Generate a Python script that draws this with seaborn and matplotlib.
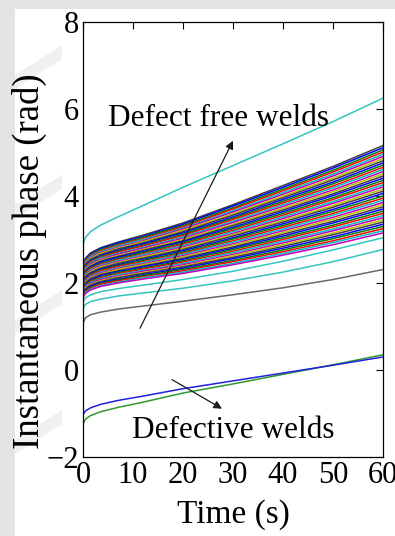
import pandas as pd
import matplotlib
matplotlib.use("Agg")
import matplotlib.pyplot as plt
from matplotlib.patches import Rectangle, Polygon
import seaborn as sns

# Sample times (s) at which every phase trace is tabulated
time_s = [0, 0.5, 1.5, 3.5, 7, 12, 20, 30, 40, 50, 60]

# Instantaneous phase (rad) of the bundle of defect-free welds:
# one array per sample time, one entry per weld (top of bundle first)
band_t0 = [2.42, 2.40, 2.38, 2.36, 2.34, 2.33, 2.31, 2.29, 2.27, 2.25, 2.23, 2.21, 2.19, 2.17,
           2.15, 2.14, 2.12, 2.10, 2.08, 2.06, 2.04, 2.02, 2.00, 1.98, 1.96, 1.95, 1.93, 1.91,
           1.89, 1.87, 1.85, 1.83, 1.81, 1.79, 1.77, 1.76, 1.74, 1.72, 1.70, 1.68, 1.66]
band_t0_5 = [2.57, 2.55, 2.53, 2.51, 2.49, 2.47, 2.45, 2.43, 2.41, 2.39, 2.37, 2.35, 2.33, 2.31,
             2.29, 2.27, 2.25, 2.23, 2.21, 2.19, 2.17, 2.15, 2.13, 2.10, 2.08, 2.06, 2.04, 2.02,
             2.00, 1.98, 1.96, 1.94, 1.92, 1.90, 1.88, 1.86, 1.84, 1.82, 1.80, 1.78, 1.76]
band_t1_5 = [2.69, 2.67, 2.65, 2.63, 2.61, 2.58, 2.56, 2.54, 2.52, 2.50, 2.48, 2.46, 2.44, 2.41,
             2.39, 2.37, 2.35, 2.33, 2.31, 2.29, 2.27, 2.24, 2.22, 2.20, 2.18, 2.16, 2.14, 2.12,
             2.10, 2.07, 2.05, 2.03, 2.01, 1.99, 1.97, 1.95, 1.93, 1.90, 1.88, 1.86, 1.84]
band_t3_5 = [2.81, 2.79, 2.77, 2.74, 2.72, 2.70, 2.68, 2.65, 2.63, 2.61, 2.59, 2.57, 2.54, 2.52,
             2.50, 2.48, 2.45, 2.43, 2.41, 2.39, 2.37, 2.34, 2.32, 2.30, 2.28, 2.25, 2.23, 2.21,
             2.19, 2.17, 2.14, 2.12, 2.10, 2.08, 2.05, 2.03, 2.01, 1.99, 1.97, 1.94, 1.92]
band_t7 = [2.94, 2.92, 2.89, 2.87, 2.85, 2.82, 2.80, 2.78, 2.75, 2.73, 2.71, 2.68, 2.66, 2.63,
           2.61, 2.59, 2.56, 2.54, 2.52, 2.49, 2.47, 2.45, 2.42, 2.40, 2.38, 2.35, 2.33, 2.31,
           2.28, 2.26, 2.24, 2.21, 2.19, 2.16, 2.14, 2.12, 2.09, 2.07, 2.05, 2.02, 2.00]
band_t12 = [3.10, 3.07, 3.05, 3.02, 3.00, 2.97, 2.95, 2.92, 2.90, 2.87, 2.85, 2.82, 2.80, 2.77,
            2.75, 2.72, 2.70, 2.67, 2.65, 2.62, 2.60, 2.57, 2.54, 2.52, 2.49, 2.47, 2.44, 2.42,
            2.39, 2.37, 2.34, 2.32, 2.29, 2.27, 2.24, 2.22, 2.19, 2.17, 2.14, 2.12, 2.09]
band_t20 = [3.38, 3.35, 3.32, 3.29, 3.26, 3.24, 3.21, 3.18, 3.15, 3.12, 3.09, 3.06, 3.03, 3.00,
            2.97, 2.95, 2.92, 2.89, 2.86, 2.83, 2.80, 2.77, 2.74, 2.71, 2.68, 2.66, 2.63, 2.60,
            2.57, 2.54, 2.51, 2.48, 2.45, 2.42, 2.39, 2.37, 2.34, 2.31, 2.28, 2.25, 2.22]
band_t30 = [3.80, 3.77, 3.73, 3.70, 3.66, 3.63, 3.59, 3.56, 3.52, 3.49, 3.46, 3.42, 3.39, 3.35,
            3.32, 3.28, 3.25, 3.21, 3.18, 3.14, 3.11, 3.08, 3.04, 3.01, 2.97, 2.94, 2.90, 2.87,
            2.83, 2.80, 2.77, 2.73, 2.70, 2.66, 2.63, 2.59, 2.56, 2.52, 2.49, 2.45, 2.42]
band_t40 = [4.24, 4.20, 4.16, 4.12, 4.08, 4.04, 4.00, 3.96, 3.92, 3.88, 3.84, 3.80, 3.76, 3.72,
            3.68, 3.64, 3.60, 3.56, 3.52, 3.48, 3.44, 3.40, 3.36, 3.32, 3.28, 3.24, 3.20, 3.16,
            3.12, 3.08, 3.04, 3.00, 2.96, 2.92, 2.88, 2.84, 2.80, 2.76, 2.72, 2.68, 2.64]
band_t50 = [4.68, 4.64, 4.59, 4.55, 4.50, 4.46, 4.41, 4.37, 4.32, 4.28, 4.23, 4.19, 4.14, 4.10,
            4.05, 4.01, 3.96, 3.92, 3.87, 3.83, 3.78, 3.74, 3.69, 3.65, 3.60, 3.56, 3.51, 3.47,
            3.42, 3.38, 3.33, 3.29, 3.24, 3.20, 3.15, 3.11, 3.06, 3.02, 2.97, 2.93, 2.88]
band_t60 = [5.16, 5.11, 5.06, 5.01, 4.96, 4.91, 4.86, 4.81, 4.76, 4.71, 4.66, 4.61, 4.56, 4.51,
            4.46, 4.41, 4.36, 4.31, 4.26, 4.21, 4.16, 4.11, 4.06, 4.00, 3.95, 3.90, 3.85, 3.80,
            3.75, 3.70, 3.65, 3.60, 3.55, 3.50, 3.45, 3.40, 3.35, 3.30, 3.25, 3.20, 3.15]

# Defect-free welds lying outside the main bundle (one value per sample time)
outlier_high = [2.90, 3.05, 3.18, 3.33, 3.52, 3.78, 4.20, 4.70, 5.20, 5.71, 6.25]
outlier_cyan_a = [1.56, 1.66, 1.73, 1.80, 1.87, 1.95, 2.08, 2.27, 2.50, 2.76, 3.04]
outlier_cyan_b = [1.42, 1.51, 1.57, 1.63, 1.70, 1.77, 1.88, 2.05, 2.25, 2.49, 2.77]
outlier_gray = [1.08, 1.20, 1.27, 1.33, 1.40, 1.47, 1.58, 1.73, 1.89, 2.08, 2.31]

# Defective welds
defective_blue = [-1.03, -0.94, -0.87, -0.79, -0.70, -0.60, -0.43, -0.25, -0.07, 0.11, 0.30]
defective_green = [-1.24, -1.13, -1.05, -0.96, -0.86, -0.74, -0.53, -0.32, -0.10, 0.12, 0.35]

# Classic MATLAB line colour order
matlab_colors = ["#0000FF", "#008000", "#FF0000", "#00BFBF",
                 "#BF00BF", "#BFBF00", "#404040"]
cyan = "#33C6BE"

x_ticks = [0, 10, 20, 30, 40, 50, 60]
y_ticks = [-2, 0, 2, 4, 6, 8]

# ---- long-form table, one group per weld ------------------------------
band_by_time = [band_t0, band_t0_5, band_t1_5, band_t3_5, band_t7, band_t12,
                band_t20, band_t30, band_t40, band_t50, band_t60]
rows = []
colors = []


def add_curve(values, color):
    cid = len(colors)
    for t, v in zip(time_s, values):
        rows.append({"curve": cid, "t": t, "phase": v})
    colors.append(color)


add_curve(outlier_gray, "#6A6A6A")
add_curve(outlier_cyan_b, cyan)
add_curve(outlier_cyan_a, cyan)
add_curve(outlier_high, cyan)
n_band = len(band_t0)
for i in range(n_band):
    add_curve([col[i] for col in band_by_time], matlab_colors[(i + 6) % 7])
add_curve(defective_green, "#2E9A2E")
add_curve(defective_blue, "#2020E0")

df = pd.DataFrame(rows)

# ---- figure ------------------------------------------------------------
sns.set_style("white")
plt.rcParams["font.family"] = ["Liberation Serif", "DejaVu Serif"]
plt.rcParams["text.color"] = "black"
plt.rcParams["axes.labelcolor"] = "black"
plt.rcParams["xtick.color"] = "black"
plt.rcParams["ytick.color"] = "black"

W, H = 395, 536
fig = plt.figure(figsize=(W / 100, H / 100), dpi=100)
fig.patch.set_facecolor("#E4E4E4")
fig.add_artist(Rectangle((15 / W, 0), 1, 1 - 9 / H, transform=fig.transFigure,
                         facecolor="white", edgecolor="none", zorder=-10))
# faint diagonal marks along the left margin
for y0 in [45, 175, 290, 410]:
    fig.add_artist(Polygon([(15 / W, 1 - (y0 + 30) / H), (62 / W, 1 - y0 / H),
                            (62 / W, 1 - (y0 + 14) / H), (15 / W, 1 - (y0 + 44) / H)],
                           closed=True, transform=fig.transFigure,
                           facecolor="#F0F0F0", edgecolor="none", zorder=-9))

ax = fig.add_axes([83 / W, (H - 457) / H, 300 / W, 435 / H])
ax.set_facecolor("white")

sns.lineplot(data=df, x="t", y="phase", hue="curve", palette=colors,
             legend=False, linewidth=1.1, estimator=None, ax=ax)

ax.set_xlim(0, 60)
ax.set_ylim(-2, 8)
ax.set_xticks(x_ticks)
ax.set_yticks(y_ticks)
ax.tick_params(direction="in", length=5, width=0.8, top=True, right=True,
               labelsize=22, pad=3, colors="black")
for s in ax.spines.values():
    s.set_visible(True)
    s.set_color("black")
    s.set_linewidth(0.9)

ax.set_xlabel("Time (s)", fontsize=24, color="black")
ax.xaxis.set_label_coords(0.5, -0.098)
ax.set_ylabel("Instantaneous phase (rad)", fontsize=26.5, color="black")
ax.yaxis.set_label_coords(-0.177, 0.45)
ax.yaxis.label.set_va("center")

ax.text(27, 5.78, "Defect free welds", fontsize=22.5, ha="center", va="center",
        color="black")
ax.annotate("", xy=(30, 5.27), xytext=(11.4, 0.96),
            arrowprops=dict(arrowstyle="-|>", color="#1A1A1A", lw=0.9,
                            mutation_scale=12, shrinkA=0, shrinkB=0))
ax.text(30, -1.38, "Defective welds", fontsize=22.5, ha="center", va="center",
        color="black")
ax.annotate("", xy=(27.8, -0.89), xytext=(17.8, -0.22),
            arrowprops=dict(arrowstyle="-|>", color="#1A1A1A", lw=0.9,
                            mutation_scale=12, shrinkA=0, shrinkB=0))

fig.savefig("out.png", dpi=100, facecolor=fig.get_facecolor())
